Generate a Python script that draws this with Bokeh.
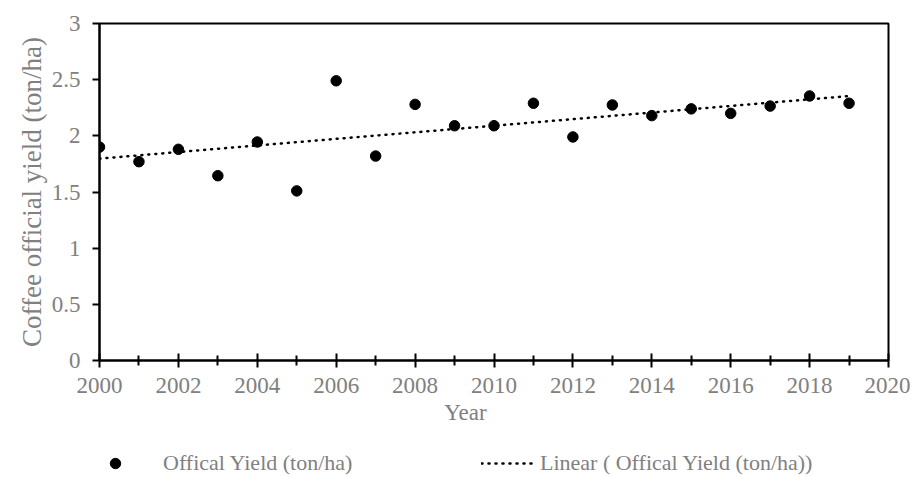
import numpy as np
from bokeh.plotting import figure
from bokeh.models import FixedTicker, Legend, LegendItem, Range1d, Label, Title
from bokeh.layouts import column
from bokeh.embed import file_html
from bokeh.resources import INLINE

years = [2000, 2001, 2002, 2003, 2004, 2005, 2006, 2007, 2008, 2009,
         2010, 2011, 2012, 2013, 2014, 2015, 2016, 2017, 2018, 2019]
yield_vals = [1.90, 1.77, 1.88, 1.645, 1.945, 1.51, 2.49, 1.82, 2.28, 2.09,
              2.09, 2.29, 1.99, 2.275, 2.18, 2.24, 2.20, 2.265, 2.355, 2.29]
x_major = [2000, 2002, 2004, 2006, 2008, 2010, 2012, 2014, 2016, 2018, 2020]
x_minor = [2001, 2003, 2005, 2007, 2009, 2011, 2013, 2015, 2017, 2019]
y_major = [0, 0.5, 1, 1.5, 2, 2.5, 3]
y_labels = ["0", "0.5", "1", "1.5", "2", "2.5", "3"]

series_name = "Offical Yield (ton/ha)"
trend_name = "Linear ( Offical Yield (ton/ha))"
x_title = "Year"
y_title = "Coffee official yield (ton/ha)"

FONT = "Liberation Serif"
GRAY = "#808080"

# Excel-style linear trendline (least squares)
coef = np.polyfit(years, yield_vals, 1)
trend_x = [years[0], years[-1]]
trend_y = [float(np.polyval(coef, v)) for v in trend_x]

W = 910
BL, BR = 99, 22
p = figure(width=W, height=400, output_backend="svg", toolbar_location=None,
           x_range=Range1d(2000, 2020), y_range=Range1d(0, 3),
           min_border_left=BL, min_border_right=BR, min_border_top=23,
           min_border_bottom=40)
p.outline_line_color = "black"
p.outline_line_width = 2
p.xgrid.visible = False
p.ygrid.visible = False
p.background_fill_color = "white"
p.border_fill_color = "white"

TREND_STYLE = dict(line_color="black", line_width=2.5, line_dash="1 6", line_cap="round")
DOT_STYLE = dict(size=10.5, color="black")

p.line(trend_x, trend_y, **TREND_STYLE)
p.scatter(years, yield_vals, **DOT_STYLE)

xa = p.xaxis[0]
xa.ticker = FixedTicker(ticks=x_major, minor_ticks=x_minor)
xa.axis_line_width = 2
xa.major_tick_in = 7
xa.major_tick_out = 7
xa.minor_tick_in = 5
xa.minor_tick_out = 5
xa.major_tick_line_width = 2
xa.minor_tick_line_width = 2
xa.major_label_text_font = FONT
xa.major_label_text_font_size = "23px"
xa.major_label_text_color = GRAY
xa.major_label_standoff = 10

ya = p.yaxis[0]
ya.ticker = FixedTicker(ticks=y_major, minor_ticks=[])
ya.major_label_overrides = {float(v): s for v, s in zip(y_major, y_labels)}
ya.axis_line_width = 2
ya.major_tick_in = 0
ya.major_tick_out = 7
ya.minor_tick_in = 0
ya.minor_tick_out = 0
ya.major_tick_line_width = 2
ya.major_label_text_font = FONT
ya.major_label_text_font_size = "23px"
ya.major_label_text_color = GRAY
ya.major_label_standoff = 12

p.add_layout(Title(text=y_title, align="center", offset=20, standoff=4,
                   text_font=FONT, text_font_size="27px",
                   text_font_style="normal", text_color=GRAY), "left")

# Lower strip: x-axis title and legend (page-pixel x, y downward from strip top)
H2 = 76
q = figure(width=W, height=H2, output_backend="svg", toolbar_location=None,
           x_range=Range1d(BL, W - BR), y_range=Range1d(H2, 0),
           min_border_left=BL, min_border_right=BR,
           min_border_top=0, min_border_bottom=0)
q.axis.visible = False
q.grid.visible = False
q.outline_line_color = None
q.background_fill_color = "white"
q.border_fill_color = "white"

q.add_layout(Label(x=465, y=12, text=x_title, text_font=FONT,
                   text_font_size="23px", text_color=GRAY,
                   text_align="center", text_baseline="middle"))

# proxy renderers (off-screen) so the legend can draw its glyphs
r_dot = q.scatter([-500], [-500], **DOT_STYLE)
r_line = q.line([-600, -500], [-500, -500], **TREND_STYLE)

def make_legend(item, loc, gw, gh, standoff):
    return Legend(items=[item], location=loc, orientation="horizontal",
                  glyph_width=gw, glyph_height=gh, label_standoff=standoff,
                  padding=0, margin=0, spacing=0, label_height=20,
                  label_text_font=FONT, label_text_font_size="22px",
                  label_text_color=GRAY, border_line_color=None,
                  background_fill_alpha=0, label_text_baseline="middle")

q.add_layout(make_legend(LegendItem(label=series_name, renderers=[r_dot]),
                         (102 - BL, 0), 26, 26, 35), "center")
q.add_layout(make_legend(LegendItem(label=trend_name, renderers=[r_line]),
                         (481 - BL, 0), 52, 26, 7), "center")

open("out.html", "w").write(file_html(column(p, q, spacing=0), INLINE))
